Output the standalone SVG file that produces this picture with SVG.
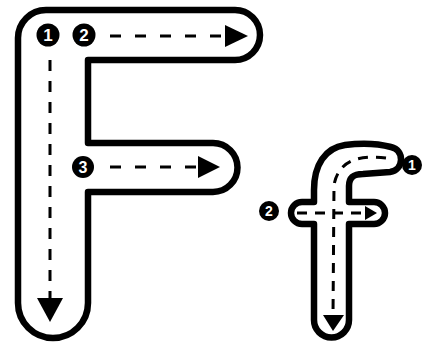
<svg xmlns="http://www.w3.org/2000/svg" width="432" height="349" viewBox="0 0 432 349">
<style>
.outline{fill:none;stroke:#000;stroke-width:6.5;stroke-linejoin:round}
.dash{fill:none;stroke:#000;stroke-width:3}
.head{fill:#000}
.badge{fill:#000}
.num{fill:#fff;font-family:"Liberation Sans",Arial,sans-serif;font-weight:bold;text-anchor:middle}
</style>
<rect width="432" height="349" fill="#fff"/>
<g id="letter-F">
<path class="outline" d="M18 303 L18 38 A28 28 0 0 1 46 10 L235 10 A25 25 0 0 1 235 60 L88 60 L88 143 L213 143 A24.5 24.5 0 0 1 213 192 L88 192 L88 303 A35 35 0 0 1 18 303 Z"/>
</g>
<g id="letter-f">
<path class="outline" d="M314 224 L314 320 A17.5 17.5 0 0 0 349 320 L349 224 L374 224 A11 11 0 0 0 374 202 L349 202 L349 186 C349 177 354 174 363 174 L390 172 C404 170 405 150 391 147 C376 143 360 143 345 145 C325 148 314 165 314 190 L314 202 L302 202 A11 11 0 0 0 302 224 Z"/>
</g>
<g id="connectors">
<path class="dash" d="M50 60 L50 298" stroke-dasharray="11 10"/>
<polygon class="head" points="37,298 63,298 50,322"/>
<path class="dash" d="M110 36 L226 36" stroke-dasharray="11 14"/>
<polygon class="head" points="225,25 225,47 248,36"/>
<path class="dash" d="M110 167 L199 167" stroke-dasharray="11 14"/>
<polygon class="head" points="198,156 198,178 220,167"/>
<path class="dash" d="M386 158 Q340 152 334 185 L333 316" stroke-dasharray="10 8"/>
<polygon class="head" points="323,315 344,315 333,331"/>
<path class="dash" d="M297 213 L366 213" stroke-dasharray="10 8"/>
<polygon class="head" points="365,206 365,220 377,213"/>
</g>
<g id="step-F1"><circle class="badge" cx="48" cy="35" r="11.5"/><text class="num" x="48" y="41" font-size="17">1</text></g>
<g id="step-F2"><circle class="badge" cx="84" cy="35" r="11.5"/><text class="num" x="84" y="41" font-size="17">2</text></g>
<g id="step-F3"><circle class="badge" cx="83" cy="167" r="11"/><text class="num" x="83" y="173" font-size="16">3</text></g>
<g id="step-f1"><circle class="badge" cx="412" cy="165" r="10"/><text class="num" x="412" y="170" font-size="14">1</text></g>
<g id="step-f2"><circle class="badge" cx="269" cy="211" r="10"/><text class="num" x="269" y="216" font-size="14">2</text></g>
</svg>
